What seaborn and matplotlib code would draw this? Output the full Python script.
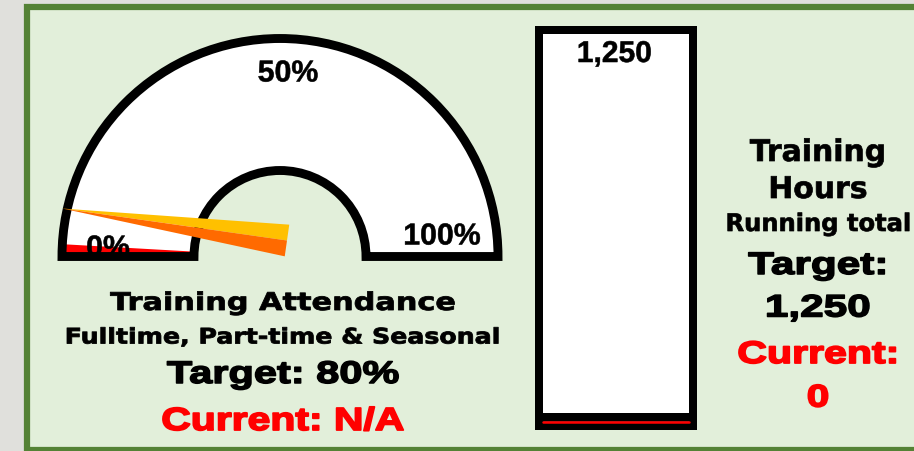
import numpy as np
import matplotlib
matplotlib.use('Agg')
import matplotlib.pyplot as plt
import seaborn as sns
from matplotlib.patches import Wedge, Rectangle
from matplotlib.patheffects import AbstractPathEffect
from matplotlib.transforms import Affine2D

# ── Data ───────────────────────────────────────────────────────────────────────
gauge_ticks       = [0, 50, 100]
gauge_tick_labels = ['0%', '50%', '100%']
attendance_target = 80
attendance_fill   = 1.8     # red sliver shown on the gauge (current is N/A)
needle_pct        = 4.5
hours_target      = 1250
hours_cat         = ['Training Hours']
hours_current     = [0]

# ── Style ──────────────────────────────────────────────────────────────────────
sns.set_theme(style='white')
plt.rcParams['font.family'] = ['DejaVu Sans']
plt.rcParams['text.color'] = 'black'

W, H = 914, 451
PANEL  = '#E2EFDA'
BORDER = '#548235'
RED    = '#FF0000'
YELLOW = '#FFC000'
ORANGE = '#FF6A00'


class Stretch(AbstractPathEffect):
    """Widen (and optionally embolden) text around its own centre,
    the text boxes in the slide are stretched."""
    def __init__(self, sx=1.0, heavy=0.0):
        super().__init__()
        self.sx = sx
        self.heavy = heavy

    def draw_path(self, renderer, gc, tpath, affine, rgbFace=None):
        ext = tpath.get_extents()
        mid = (ext.x0 + ext.x1) / 2
        t = Affine2D().translate(-mid, 0).scale(self.sx, 1).translate(mid, 0) + affine
        gc0 = renderer.new_gc()
        gc0.copy_properties(gc)
        if self.heavy > 0:
            gc0.set_linewidth(self.heavy)
            gc0.set_foreground(rgbFace)
            gc0.set_joinstyle('round')
        renderer.draw_path(gc0, tpath, t, rgbFace)
        gc0.restore()


fig = plt.figure(figsize=(W / 100, H / 100), dpi=100, facecolor='#e0e0dc')
ax = fig.add_axes([0, 0, 1, 1])
ax.set_xlim(0, W)
ax.set_ylim(H, 0)
ax.axis('off')


def label(x, y, s, size, family='Liberation Sans', color='black', sx=1.0,
          heavy=0.0, z=10):
    t = ax.text(x, y, s, fontsize=size, fontweight='bold', family=family,
                color=color, ha='center', va='baseline', zorder=z)
    t.set_path_effects([Stretch(sx, heavy)])
    return t


# ── Panel ──────────────────────────────────────────────────────────────────────
ax.add_patch(Rectangle((26.7, 7), 1000, 443, facecolor=PANEL,
                       edgecolor=BORDER, lw=4.5, zorder=0))

# ── Gauge ──────────────────────────────────────────────────────────────────────
cx, cy = 280, 256.5
r_out, ring = 218, 132
to_ang = lambda p: 180 + 1.8 * p

ax.add_patch(Wedge((cx, cy), r_out, 180, 360, width=ring,
                   facecolor='white', lw=0, zorder=1))
ax.add_patch(Wedge((cx, cy), r_out, 180, to_ang(attendance_fill), width=ring,
                   facecolor=RED, lw=0, zorder=2))

lab_r  = 172
lab_dx = [0, 8, -10]
lab_dy = [0, -3, -12]
for p, s, dx, dy in zip(gauge_ticks, gauge_tick_labels, lab_dx, lab_dy):
    a = np.deg2rad(to_ang(p))
    z = 3 if p == 0 else 10
    label(cx + lab_r * np.cos(a) + dx, cy + lab_r * np.sin(a) + dy, s, 21.8,
          heavy=0.4, z=z)

ax.add_patch(Wedge((cx, cy), r_out, 180, 360, width=ring, fill=False,
                   edgecolor='black', lw=6.4, joinstyle='miter', zorder=4))

# needle (pivot sits a little off the gauge centre, as in the slide)
bx, by = cx + 7, cy - 16
a = np.deg2rad(to_ang(needle_pct))
L, hw = 227, 16
tip = (bx + L * np.cos(a), by + L * np.sin(a))
px, py = -np.sin(a), np.cos(a)
ax.fill([tip[0], bx + hw * px, bx], [tip[1], by + hw * py, by],
        color=YELLOW, lw=0, zorder=5)
ax.fill([tip[0], bx, bx - hw * px], [tip[1], by, by - hw * py],
        color=ORANGE, lw=0, zorder=5)

# ── Left captions ──────────────────────────────────────────────────────────────
label(282, 310, 'Training Attendance', 17.6, family='DejaVu Sans', sx=1.24, heavy=0.6)
label(282, 343.5, 'Fulltime, Part-time & Seasonal', 15.4, family='DejaVu Sans', sx=1.18, heavy=0.6)
label(283, 383, f'Target: {attendance_target}%', 22.5, sx=1.33, heavy=1.1)
label(283, 430, 'Current: N/A', 23, color=RED, sx=1.28, heavy=1.3)

# ── Thermometer bar ────────────────────────────────────────────────────────────
ax.add_patch(Rectangle((535, 26), 162, 404, facecolor='black', lw=0, zorder=1))
ax.add_patch(Rectangle((543, 34), 146, 379, facecolor='white', lw=0, zorder=2))

base_y, top_y = 421.9, 34
axb = fig.add_axes([543 / W, (H - base_y) / H, 146 / W, (base_y - top_y) / H])
axb.patch.set_alpha(0)
sns.barplot(x=hours_cat, y=hours_current, color=RED, width=1, saturation=1,
            ax=axb)
# current level marker (a zero-height bar has no visible area)
axb.axhline(hours_current[0], color=RED, lw=1.8, clip_on=False, zorder=5)
axb.set_xlim(-0.5, 0.5)
axb.set_ylim(0, hours_target)
axb.axis('off')
axb.annotate(f'{hours_target:,}', (0, hours_target), xytext=(-1.5, -28),
             textcoords='offset pixels', ha='center', va='baseline',
             color='black', fontsize=21.6, fontweight='bold',
             family='Liberation Sans',
             path_effects=[Stretch(1.0, 0.4)])

# ── Right captions ─────────────────────────────────────────────────────────────
label(818, 161, 'Training', 21.5, family='DejaVu Sans', heavy=0.5)
label(818, 198, 'Hours', 21.5, family='DejaVu Sans', heavy=0.5)
label(818, 231, 'Running total', 17.4, family='DejaVu Sans', heavy=0.5)
label(818, 274, 'Target:', 22.4, sx=1.36, heavy=1.1)
label(818, 316.5, f'{hours_target:,}', 22.4, sx=1.36, heavy=1.1)
label(818, 363, 'Current:', 22.4, color=RED, sx=1.32, heavy=1.3)
label(818, 406.5, f'{hours_current[0]:,}', 22.4, color=RED, sx=1.3, heavy=1.3)

fig.savefig('out.png', dpi=100, facecolor=fig.get_facecolor())
